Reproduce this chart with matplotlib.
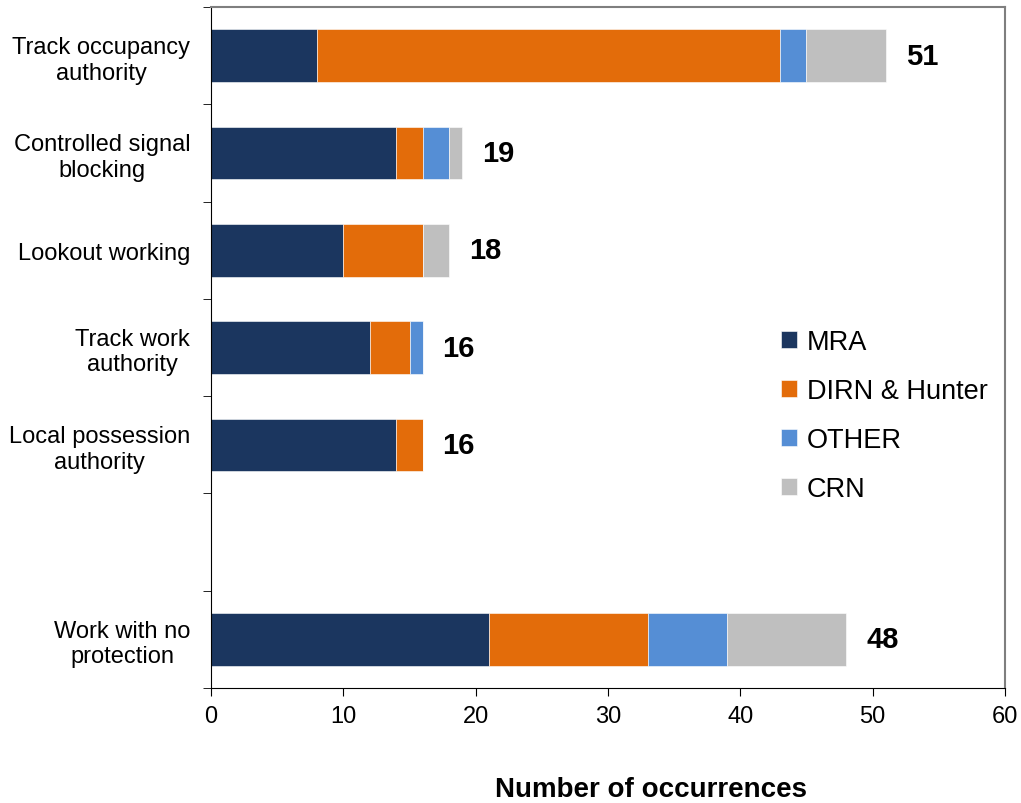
import matplotlib.pyplot as plt
import numpy as np

plt.rcParams['font.family'] = ['Liberation Sans', 'DejaVu Sans']

categories = ['Track occupancy\nauthority', 'Controlled signal\nblocking', 'Lookout working',
              'Track work\nauthority', 'Local possession\nauthority', 'Work with no\nprotection']
slots = [0, 1, 2, 3, 4, 6]
mra = [8, 14, 10, 12, 14, 21]
dirn = [35, 2, 6, 3, 2, 12]
other = [2, 2, 0, 1, 0, 6]
crn = [6, 1, 2, 0, 0, 9]
series = [('MRA', mra, '#1b365f'), ('DIRN & Hunter', dirn, '#e36c0a'),
          ('OTHER', other, '#558ed5'), ('CRN', crn, '#bfbfbf')]

fig = plt.figure(figsize=(10.21, 8.04), dpi=100)
ax = fig.add_axes([0.2067, 0.143, 0.7776, 0.847])

left = np.zeros(len(slots))
for name, vals, col in series:
    vals = np.array(vals, dtype=float)
    ax.barh(slots, vals, left=left, height=0.54, color=col, label=name,
            edgecolor='white', linewidth=0.4)
    left += vals

for y, tot in zip(slots, left):
    ax.text(tot + 1.5, y, f'{int(tot)}', va='center', ha='left',
            fontsize=21, fontweight='bold')

ax.set_xlim(0, 60)
ax.set_ylim(6.5, -0.5)
ax.set_xticks(range(0, 61, 10))
ax.set_yticks(slots)
ax.set_yticklabels(categories, multialignment='center')
ax.set_yticks(np.arange(-0.5, 7, 1), minor=True)
ax.tick_params(axis='y', which='major', length=0, pad=15, labelsize=17)
ax.tick_params(axis='y', which='minor', length=6, direction='out')
ax.tick_params(axis='x', length=6, direction='out', labelsize=17, pad=6)

for s in ['top', 'right']:
    ax.spines[s].set_color('#7f7f7f')
    ax.spines[s].set_linewidth(1.5)

ax.set_xlabel('Number of occurrences', fontsize=20, fontweight='bold', va='center')
ax.xaxis.set_label_coords(0.554, -0.149)

ax.legend(loc='center left', bbox_to_anchor=(0.718, 0.40), frameon=False,
          fontsize=19.5, handlelength=0.6, handleheight=0.6, handletextpad=0.35,
          labelspacing=0.85, borderpad=0, borderaxespad=0)

fig.savefig('out.png', dpi=100)
